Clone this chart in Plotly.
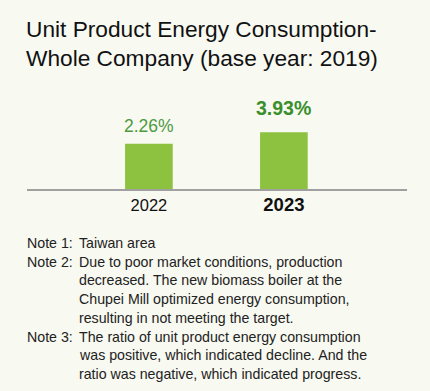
import math
import plotly.graph_objects as go

# ---- data ----
years = ["2022", "2023"]
values = [2.26, 3.93]
value_labels = ["2.26%", "<b>3.93%</b>"]
tick_labels = ["2022", "<span style='font-size:18.5px'><b>2023</b></span>"]

title_lines = ["Unit Product Energy Consumption-", "Whole Company (base year: 2019)"]
note_labels = ["Note 1:", "Note 2:", "", "", "", "Note 3:", "", ""]
note_lines = [
    "Taiwan area",
    "Due to poor market conditions, production",
    "decreased. The new biomass boiler at the",
    "Chupei Mill optimized energy consumption,",
    "resulting in not meeting the target.",
    "The ratio of unit product energy consumption",
    "was positive, which indicated decline. And the",
    "ratio was negative, which indicated progress.",
]

W, H = 430, 391
ML, MR, MT, MB = 27, 23, 95, 202
PW, PH = W - ML - MR, H - MT - MB
BG = "#f8f9f1"
BAR = "#8cc23f"
FONT = "Liberation Sans, Arial, Helvetica, sans-serif"


def px_x(px):
    return (px - ML) / PW


def px_y(py):
    return (H - MB - py) / PH


fig = go.Figure()
fig.add_trace(go.Bar(
    x=years, y=values, marker=dict(color=BAR, line=dict(width=0)),
    width=0.353, hoverinfo="x+y",
))

annotations = []
# value labels
styles = [
    dict(color="#4d9a42", size=17.5, shift=5.5),
    dict(color="#3a8f2d", size=19.5, shift=11),
]
for i, (v, lab, st) in enumerate(zip(values, value_labels, styles)):
    annotations.append(dict(
        x=i, y=math.log10(v), xref="x", yref="y", text=lab, showarrow=False,
        yanchor="bottom", yshift=st["shift"],
        font=dict(family=FONT, size=st["size"], color=st["color"]),
    ))

# title
for i, t in enumerate(title_lines):
    annotations.append(dict(
        x=px_x(24), y=px_y(14 + i * 29), xref="paper", yref="paper", text=t,
        showarrow=False, xanchor="left", yanchor="top",
        font=dict(family=FONT, size=22.7, color="#111111"),
    ))

# notes
LH = 18.7
for i, (lab, t) in enumerate(zip(note_labels, note_lines)):
    top = 233 + i * LH
    if lab:
        annotations.append(dict(
            x=px_x(25), y=px_y(top), xref="paper", yref="paper", text=lab,
            showarrow=False, xanchor="left", yanchor="top",
            font=dict(family=FONT, size=14.2, color="#222222"),
        ))
    annotations.append(dict(
        x=px_x(77), y=px_y(top), xref="paper", yref="paper", text=t,
        showarrow=False, xanchor="left", yanchor="top",
        font=dict(family=FONT, size=14.2, color="#222222"),
    ))

fig.update_layout(
    width=W, height=H,
    margin=dict(l=ML, r=MR, t=MT, b=MB, pad=0),
    paper_bgcolor=BG, plot_bgcolor=BG,
    showlegend=False,
    annotations=annotations,
    font=dict(family=FONT),
    xaxis=dict(
        type="category", range=[-0.903, 1.912],
        tickvals=years, ticktext=tick_labels,
        showline=True, linecolor="#a0a0a0", linewidth=1.5,
        ticks="", showgrid=False, zeroline=False,
        tickfont=dict(family=FONT, size=16.5, color="#111111"),
        fixedrange=True,
    ),
    yaxis=dict(
        type="log", range=[-0.608, 1.388],
        showticklabels=False, showgrid=False, zeroline=False, showline=False,
        ticks="", fixedrange=True,
    ),
)

fig.write_html(
    "out.html",
    config={"displayModeBar": False},
    post_script="document.body.style.margin='0';document.body.style.background='%s';" % BG,
)
